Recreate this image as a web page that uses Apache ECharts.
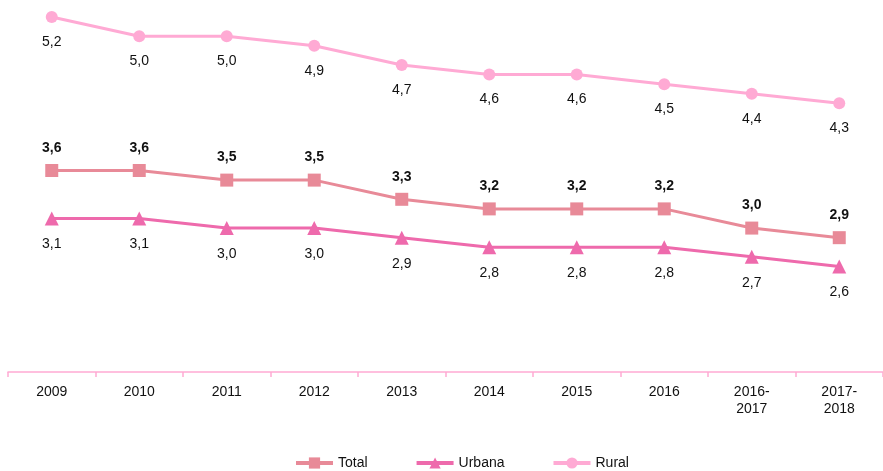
<!DOCTYPE html>
<html>
<head>
<meta charset="utf-8">
<script src="https://cdn.jsdelivr.net/npm/echarts@6/dist/echarts.min.js"></script>
<style>
  html, body { margin: 0; padding: 0; background: #fff; }
  #chart { width: 883px; height: 471px; }
</style>
</head>
<body>
<div id="chart"></div>
<script>
var years = ["2009", "2010", "2011", "2012", "2013", "2014", "2015", "2016", "2016-\n2017", "2017-\n2018"];
var total = [3.6, 3.6, 3.5, 3.5, 3.3, 3.2, 3.2, 3.2, 3.0, 2.9];
var urbana = [3.1, 3.1, 3.0, 3.0, 2.9, 2.8, 2.8, 2.8, 2.7, 2.6];
var rural = [5.2, 5.0, 5.0, 4.9, 4.7, 4.6, 4.6, 4.5, 4.4, 4.3];

var font = "'Liberation Sans', Arial, sans-serif";

function fmt(p) {
  return p.value.toFixed(1).replace(".", ",");
}

var chart = echarts.init(document.getElementById("chart"));
chart.setOption({
  animation: false,
  textStyle: { fontFamily: font },
  grid: { left: 8, right: -5, top: 17, bottom: 99 },
  legend: {
    left: 289,
    top: 451,
    itemWidth: 37,
    itemHeight: 14,
    itemGap: 47,
    lineStyle: { width: 4 },
    textStyle: { fontFamily: font, fontSize: 14, color: "#111" },
    data: ["Total", "Urbana", "Rural"]
  },
  xAxis: {
    type: "category",
    data: years,
    axisLine: { lineStyle: { color: "#FFAAD4", width: 1.5 } },
    axisTick: { show: true, length: 5, lineStyle: { color: "#FFAAD4", width: 1.5 } },
    axisLabel: { color: "#111", fontSize: 14, fontFamily: font, margin: 12, lineHeight: 17 }
  },
  yAxis: {
    type: "value",
    min: 1.5,
    max: 5.2,
    show: false,
    splitLine: { show: false }
  },
  series: [
    {
      name: "Total",
      type: "line",
      data: total,
      symbol: "rect",
      symbolSize: 13,
      color: "#E88A98",
      lineStyle: { width: 3 },
      label: {
        show: true, position: "top", distance: 9,
        formatter: fmt, fontWeight: "bold", fontSize: 14, color: "#111", fontFamily: font
      }
    },
    {
      name: "Urbana",
      type: "line",
      data: urbana,
      symbol: "triangle",
      symbolSize: 14,
      color: "#EE6AAC",
      lineStyle: { width: 3 },
      label: {
        show: true, position: "bottom", distance: 12,
        formatter: fmt, fontSize: 14, color: "#111", fontFamily: font
      }
    },
    {
      name: "Rural",
      type: "line",
      data: rural,
      symbol: "circle",
      symbolSize: 12,
      color: "#FFAAD4",
      lineStyle: { width: 3 },
      label: {
        show: true, position: "bottom", distance: 12,
        formatter: fmt, fontSize: 14, color: "#111", fontFamily: font
      }
    }
  ]
});
</script>
</body>
</html>
